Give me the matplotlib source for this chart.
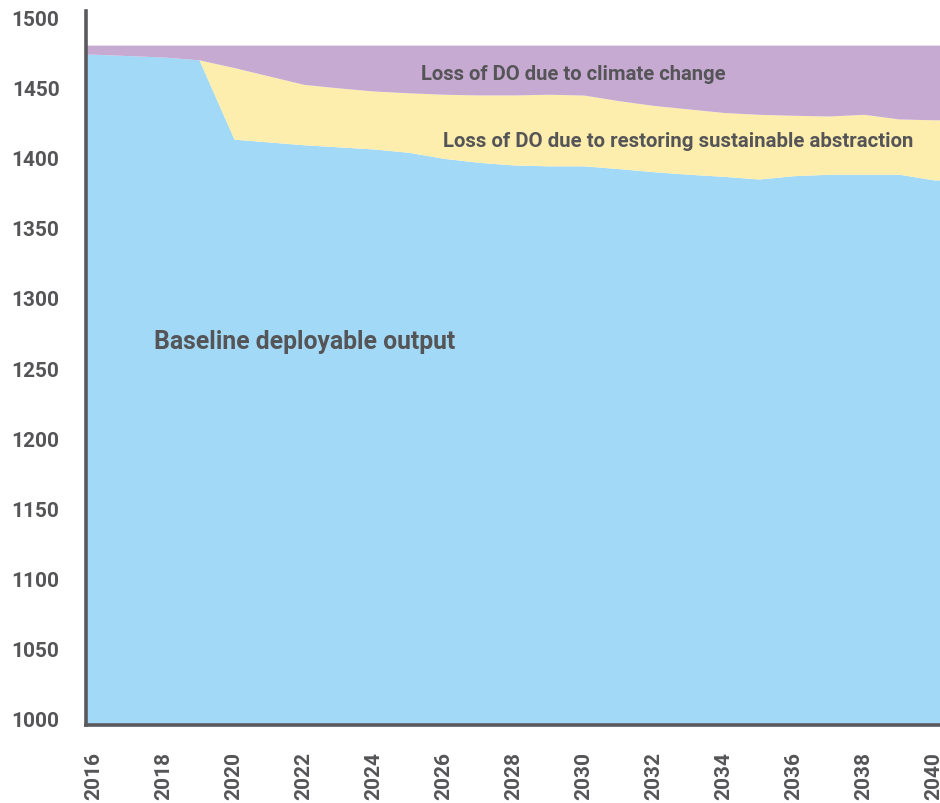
import matplotlib.pyplot as plt
import numpy as np

# # # # # # # # # # # # # # # # # # # # # # # # # # # # # # # # # # # # # #
# data (Ml/d)
# # # # # # # # # # # # # # # # # # # # # # # # # # # # # # # # # # # # # #
years = np.arange(2016, 2041)

baseline = [1473.5, 1472.5, 1471.5, 1469.5, 1413.0, 1411.0, 1409.0, 1407.5,
            1406.0, 1403.6, 1399.3, 1396.5, 1394.6, 1394.0, 1394.0, 1392.0,
            1389.8, 1388.0, 1386.5, 1384.6, 1387.0, 1388.0, 1388.0, 1388.0,
            1384.0]

# top of the sustainability-loss band
sustain_top = [1473.5, 1472.5, 1471.5, 1469.5, 1464.0, 1458.0, 1452.0, 1449.5,
               1447.3, 1446.0, 1445.0, 1444.5, 1444.5, 1445.0, 1444.4, 1440.4,
               1437.0, 1434.5, 1432.0, 1430.7, 1430.0, 1429.5, 1430.7, 1427.4,
               1426.8]

total_do = [1480.0] * len(years)

labels = {
    'baseline': 'Baseline deployable output',
    'climate': 'Loss of DO due to climate change',
    'sustain': 'Loss of DO due to restoring sustainable abstraction',
}

# colours
c_blue = '#a1d9f6'
c_yellow = '#fdeeae'
c_purple = '#c6aad2'
c_text = '#555558'

plt.rcParams['font.family'] = ['Roboto', 'DejaVu Sans']
plt.rcParams['font.weight'] = 'bold'

# # # # # # # # # # # # # # # # # # # # # # # # # # # # # # # # # # # # # #
# graph
# # # # # # # # # # # # # # # # # # # # # # # # # # # # # # # # # # # # # #
fig = plt.figure(figsize=(9.4, 8.04), dpi=100)
ax = fig.add_axes([86 / 940, 78 / 804, 854 / 940, 714 / 804])

xlim = (2015.77, 2040.17)
ylim = (995.7, 1504.3)

# stretch the bands out to the axis edges
xf = np.r_[xlim[0], years, xlim[1]]
def ext(v):
    v = np.asarray(v, dtype=float)
    return np.r_[v[0], v, v[-1]]

ax.fill_between(xf, ylim[0], ext(baseline), color=c_blue, lw=0)
ax.fill_between(xf, ext(baseline), ext(sustain_top), color=c_yellow, lw=0)
ax.fill_between(xf, ext(sustain_top), ext(total_do), color=c_purple, lw=0)

ax.set_xlim(*xlim)
ax.set_ylim(*ylim)

ax.set_xticks(np.arange(2016, 2041, 2))
ax.set_yticks(np.arange(1000, 1501, 50))
ax.tick_params(axis='x', length=0, pad=19, labelrotation=90,
               labelsize=15, labelcolor=c_text)
ax.tick_params(axis='y', length=0, pad=19, labelsize=15, labelcolor=c_text)
for lab in ax.get_xticklabels() + ax.get_yticklabels():
    lab.set_fontweight('bold')

for s in ['top', 'right']:
    ax.spines[s].set_visible(False)
for s in ['left', 'bottom']:
    ax.spines[s].set_color('#5a5a5d')
    ax.spines[s].set_linewidth(2.6)

# band labels
ax.text(2017.71, 1269.2, labels['baseline'], fontsize=17.8, color=c_text,
        fontweight='bold', va='center', ha='left')
ax.text(2025.34, 1460.0, labels['climate'], fontsize=14.6, color=c_text,
        fontweight='bold', va='center', ha='left')
ax.text(2025.97, 1411.7, labels['sustain'], fontsize=14.7, color=c_text,
        fontweight='bold', va='center', ha='left')

fig.savefig('out.png', dpi=100)
